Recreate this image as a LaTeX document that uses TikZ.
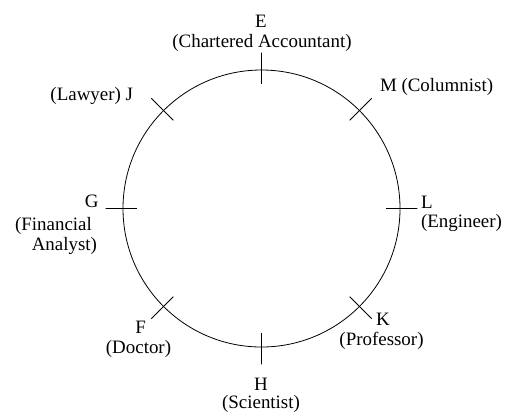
\documentclass[tikz,border=0pt]{standalone}
\usepackage{fontspec}
\setmainfont{Liberation Serif}
\usetikzlibrary{calc}
\begin{document}
\begin{tikzpicture}[x=1bp,y=-1bp,
  lbl/.style={inner sep=0, outer sep=0, font=\fontsize{19}{20}\selectfont},
  tickline/.style={line width=0.8bp}]
\useasboundingbox (0,0) rectangle (514,414);
\node[circle, draw, line width=0.8bp, minimum size=277bp, inner sep=0, outer sep=0] (c) at (261.5,208.5) {};
\foreach \a in {0,45,...,315}
  \draw[tickline] ($(c.center)!0.9!(c.\a)$) -- ($(c.center)!1.125!(c.\a)$);
% E
\node[lbl, anchor=base] (E) at (261,27.3) {E};
\node[lbl, anchor=base] (Ed) at (262,47.7) {(Chartered Accountant)};
% J
\node[lbl, anchor=base east] (J) at (133,100.5) {(Lawyer) J};
% M
\node[lbl, anchor=base west] (M) at (380,91.5) {M (Columnist)};
% G
\node[lbl, anchor=base east] (G) at (98.5,207.7) {G};
\node[lbl, anchor=base] (Gd1) at (53.5,230) {(Financial};
\node[lbl, anchor=base east] (Gd2) at (97,250.5) {Analyst)};
% L
\node[lbl, anchor=base west] (L) at (421,208) {L};
\node[lbl, anchor=base west] (Ld) at (421,227) {(Engineer)};
% F
\node[lbl, anchor=base] (F) at (140.7,333) {F};
\node[lbl, anchor=base] (Fd) at (138.5,353) {(Doctor)};
% K
\node[lbl, anchor=base] (K) at (383,325.7) {K};
\node[lbl, anchor=base] (Kd) at (381.5,345) {(Professor)};
% H
\node[lbl, anchor=base] (H) at (261,390.5) {H};
\node[lbl, anchor=base] (Hd) at (261,408.5) {(Scientist)};
\end{tikzpicture}
\end{document}
